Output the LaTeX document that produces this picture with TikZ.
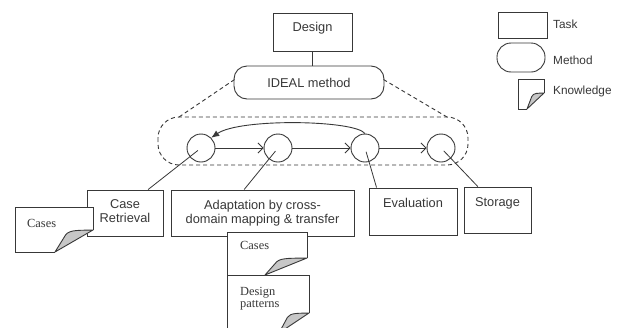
\documentclass[tikz,border=0pt]{standalone}
\usepackage{fontspec}
\setmainfont{Liberation Sans}
\newfontfamily\notefont{Liberation Serif}
\usetikzlibrary{arrows.meta,calc}
\definecolor{ink}{gray}{0.22}
\definecolor{flapgray}{gray}{0.78}

% Knowledge document with a curled bottom-right corner:
% #1,#2 top-left corner, #3,#4 bottom-right corner, #5,#6 size of the fold
\newcommand\knote[6]{%
  \path[fill=white] (#1,#2) -- (#3,#2) -- (#3,{#4-#6}) -- ({#3-#5},#4) -- (#1,#4) -- cycle;
  \draw[inkline] (#3,{#4-#6}) -- (#3,#2) -- (#1,#2) -- (#1,#4) -- ({#3-#5},#4);
  \filldraw[inkline, fill=flapgray, line join=round]
    ({#3-#5},#4) -- ({#3-0.72*#5},{#4-0.78*#6})
    .. controls ({#3-0.62*#5},{#4-1.02*#6}) and ({#3-0.35*#5},{#4-0.98*#6}) .. (#3,{#4-#6})
    .. controls ({#3-0.45*#5},{#4-0.55*#6}) .. cycle;
}

\begin{document}
\begin{tikzpicture}[x=1pt,y=-1pt,
  inkline/.style={draw=ink, line width=0.9pt},
  taskbox/.style={inkline, rectangle, inner sep=0pt},
  tasktext/.style={font=\fontsize{12.8}{14.2}\selectfont, text=ink, align=center, inner sep=0pt, anchor=north},
  methodbox/.style={inkline, rectangle, rounded corners=13pt, inner sep=0pt},
  stepcircle/.style={inkline, circle, minimum size=28pt, inner sep=0pt},
  flow/.style={inkline, -{Straight Barb[length=5pt,width=10pt]}},
  backflow/.style={inkline, -{Latex[length=8pt,width=6.5pt]}},
  link/.style={inkline, line width=0.8pt},
  dashedline/.style={draw=ink, line width=0.9pt, dash pattern=on 4pt off 3pt},
  notetext/.style={font=\notefont\fontsize{12.4}{12}\selectfont, text=ink, align=left, inner sep=0pt, anchor=north west},
  legendtext/.style={font=\fontsize{11.8}{14}\selectfont, text=ink, inner sep=0pt, anchor=west},
]
\path[use as bounding box, clip] (0,0) rectangle (618,327);
\fill[white] (0,0) rectangle (618,327);

% top task and its method
\node[taskbox, minimum width=79pt, minimum height=38pt] (design) at (312.5,32) {};
\node[tasktext] (designtext) at ($(design.north)+(0,9.5)$) {Design};
\node[methodbox, minimum width=150pt, minimum height=33pt,
      font=\fontsize{12.8}{14}\selectfont, text=ink] (ideal) at (309,82.5) {IDEAL method};
\draw[inkline] (design.south) -- (design.south |- ideal.north);

% expansion of the method into its steps
\coordinate (zl) at (179,117);
\coordinate (zr) at (447,117);
\draw[dashedline, rounded corners=21pt] (158,117) rectangle (468,165);
\draw[dashedline] ($(ideal.west)+(1,-3)$) -- (zl);
\draw[dashedline] ($(ideal.east)+(-1,-3)$) -- (zr);

% steps of the cycle
\node[stepcircle] (c1) at (201,148) {};
\node[stepcircle] (c2) at (278,148) {};
\node[stepcircle] (c3) at (365,148) {};
\node[stepcircle] (c4) at (441,148) {};
\draw[flow] (c1) -- (c2);
\draw[flow] (c2) -- (c3);
\draw[flow] (c3) -- (c4);
\draw[backflow] (c3.north) .. controls (355,120) and (240,118) .. (c1.45);

% sub-tasks
\node[taskbox, minimum width=76pt, minimum height=46pt] (cr) at (125,213) {};
\node[taskbox, minimum width=183pt, minimum height=46pt] (ad) at (262.5,213) {};
\node[taskbox, minimum width=88pt, minimum height=47pt] (ev) at (413,211.5) {};
\node[taskbox, minimum width=67pt, minimum height=46pt] (st) at (497.5,210) {};
\node[tasktext] (crtext) at ($(cr.north)+(0,10)$) {Case\\Retrieval};
\node[tasktext] (adtext) at ($(ad.north)+(0,10)$) {Adaptation by cross-\\domain mapping \& transfer};
\node[tasktext] (evtext) at ($(ev.north)+(0,10.5)$) {Evaluation};
\node[tasktext] (sttext) at ($(st.north)+(0,10.5)$) {Storage};

\coordinate (crt) at ($(cr.north west)!0.80!(cr.north east)$);
\coordinate (adt) at ($(ad.north west)!0.40!(ad.north east)$);
\coordinate (evt) at ($(ev.north west)!0.09!(ev.north east)$);
\coordinate (stt) at ($(st.north west)!0.21!(st.north east)$);
\draw[link] ($(c1.center)!4pt!(crt)$) -- (crt);
\draw[link] ($(c2.center)!4pt!(adt)$) -- (adt);
\draw[link] ($(c3.center)!4pt!(evt)$) -- (evt);
\draw[link] ($(c4.center)!4pt!(stt)$) -- (stt);

% knowledge used by the steps
\knote{15}{207}{93}{252}{38}{22}
\node[notetext] (k1) at (27,219) {Cases};
\knote{227}{275}{309}{333}{30}{20}
\node[notetext] (k3) at (240,287) {Design\\patterns};
\knote{227}{232}{307}{275}{42}{17}
\node[notetext] (k2) at (240,241) {Cases};

% legend
\node[taskbox, minimum width=49pt, minimum height=26pt] (ltask) at (522.5,25) {};
\node[methodbox, rounded corners=14pt, minimum width=48pt, minimum height=29pt] (lmethod) at (521,57.5) {};
\knote{518}{79}{544}{109}{17}{16}
\node[legendtext] (lt) at (553,24) {Task};
\node[legendtext] (lm) at (553,60) {Method};
\node[legendtext] (lk) at (553,91) {Knowledge};
\end{tikzpicture}
\end{document}
